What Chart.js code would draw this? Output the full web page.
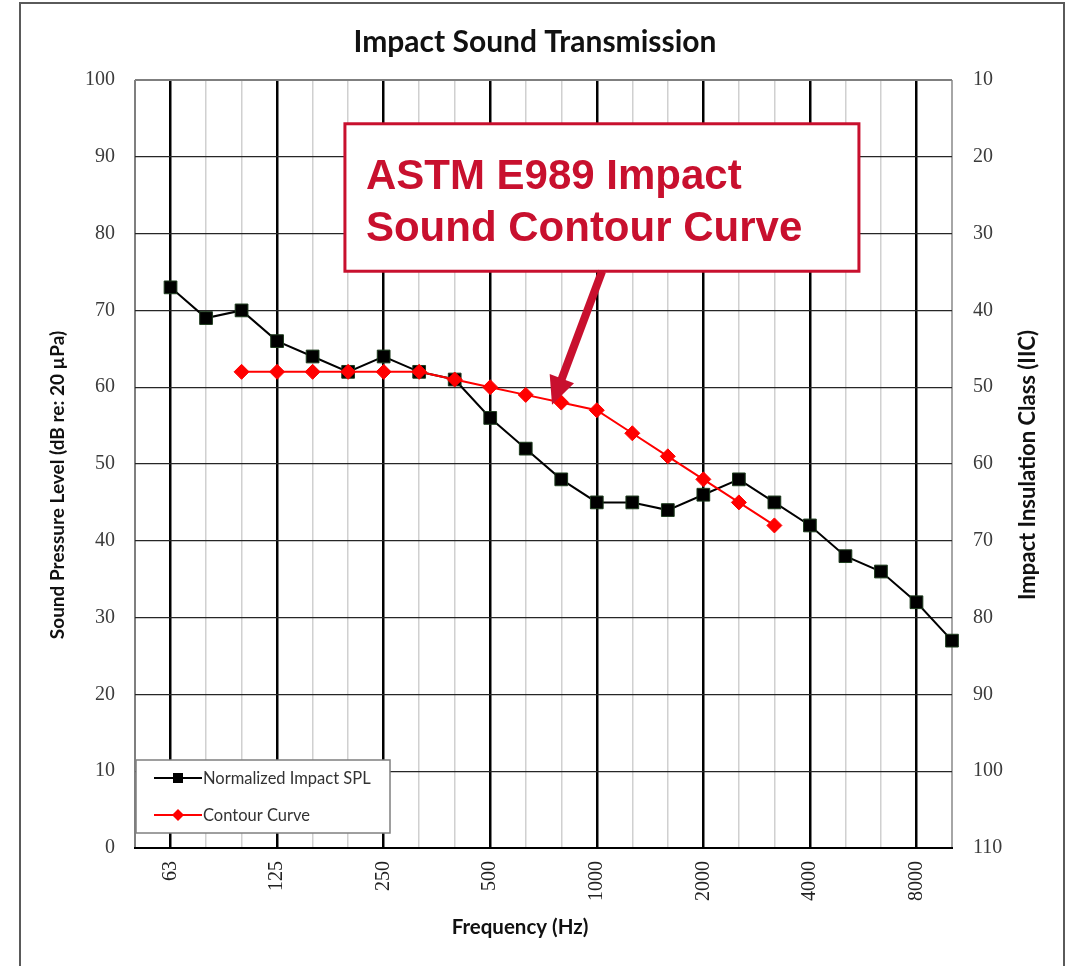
<html>
<head>
<script src="https://cdn.jsdelivr.net/npm/chart.js@4.4.3/dist/chart.umd.min.js"></script>
<style>
body { margin: 0; background: #fff; }
#wrap { position: relative; width: 1072px; height: 966px; overflow: hidden; }
#frame { position: absolute; left: 19px; top: 2px; width: 1042px; height: 1000px;
         border: 2px solid #5a5a5a; pointer-events: none; }
</style>
</head>
<body>
<div id="wrap">
  <canvas id="mychart" width="1072" height="966"></canvas>
  <div id="frame"></div>
</div>
<script>
// 1/3 octave bands, 50 Hz is the empty slot at the left edge
freqs = ['50','63','80','100','125','160','200','250','315','400','500','630','800','1000','1250','1600','2000','2500','3150','4000','5000','6300','8000','10000'];
octaves = ['63','125','250','500','1000','2000','4000','8000'];
splData = [null,73,69,70,66,64,62,64,62,61,56,52,48,45,45,44,46,48,45,42,38,36,32,27];
contourData = [null,null,null,62,62,62,62,62,62,61,60,59,58,57,54,51,48,45,42,null,null,null,null,null];

chartTitle = 'Impact Sound Transmission';
xTitle = 'Frequency (Hz)';
yTitle = 'Sound Pressure Level (dB re: 20 µPa)';
y2Title = 'Impact Insulation Class (IIC)';
calloutLines = ['ASTM E989 Impact', 'Sound Contour Curve'];
// box: [x from, x to (band index), y top, y bottom (dB)]
calloutBox = [5.91, 20.38, 94.3, 75.1];
// arrow: [x start, y start, x tip, y tip]
calloutArrow = [13.15, 75.1, 11.74, 57.7];
crimson = '#c8102e';
sansFam = 'Lato, "Liberation Sans"';

function rotText(ctx, txt, x, y, font) {
    ctx.save();
    ctx.translate(x, y);
    ctx.rotate(-Math.PI / 2);
    ctx.font = font;
    ctx.fillText(txt, 0, 0);
    ctx.restore();
}

calloutPlugin = {
    id: 'callout',
    afterDatasetsDraw(chart) {
        var ctx = chart.ctx, xs = chart.scales.x, ys = chart.scales.y;
        var l = xs.getPixelForValue(calloutBox[0]), r = xs.getPixelForValue(calloutBox[1]);
        var t = ys.getPixelForValue(calloutBox[2]), b = ys.getPixelForValue(calloutBox[3]);
        ctx.save();
        ctx.fillStyle = '#fff';
        ctx.fillRect(l, t, r - l, b - t);
        ctx.strokeStyle = crimson;
        ctx.lineWidth = 3;
        ctx.strokeRect(l, t, r - l, b - t);
        ctx.fillStyle = crimson;
        ctx.font = 'bold 42px "Liberation Sans", Arial';
        ctx.textBaseline = 'alphabetic';
        ctx.fillText(calloutLines[0], l + 21, t + 65);
        ctx.fillText(calloutLines[1], l + 21, t + 117);
        // arrow
        var x0 = xs.getPixelForValue(calloutArrow[0]), y0 = ys.getPixelForValue(calloutArrow[1]);
        var x1 = xs.getPixelForValue(calloutArrow[2]), y1 = ys.getPixelForValue(calloutArrow[3]);
        var dx = x1 - x0, dy = y1 - y0, len = Math.sqrt(dx * dx + dy * dy);
        var ux = dx / len, uy = dy / len, px = -uy, py = ux;
        var headLen = 28, headW = 13;
        var bx = x1 - ux * headLen, by = y1 - uy * headLen;
        ctx.lineWidth = 8;
        ctx.lineCap = 'butt';
        ctx.beginPath();
        ctx.moveTo(x0, y0);
        ctx.lineTo(bx + ux * 2, by + uy * 2);
        ctx.stroke();
        ctx.beginPath();
        ctx.moveTo(x1, y1);
        ctx.lineTo(bx + px * headW, by + py * headW);
        ctx.lineTo(bx - px * headW, by - py * headW);
        ctx.closePath();
        ctx.fill();
        ctx.restore();
    },
    afterDraw(chart) {
        var ctx = chart.ctx, area = chart.chartArea;
        ctx.save();
        // titles
        ctx.fillStyle = '#111';
        ctx.textAlign = 'center';
        ctx.textBaseline = 'middle';
        ctx.font = 'bold 30px ' + sansFam;
        ctx.fillText(chartTitle, 535, 42);
        ctx.font = 'bold 20.5px ' + sansFam;
        ctx.fillText(xTitle, 520, 927);
        rotText(ctx, yTitle, 58, 485, 'bold 19px ' + sansFam);
        rotText(ctx, y2Title, 1028, 465, 'bold 22px ' + sansFam);
        // legend box in lower-left corner of the plot
        var lx = area.left + 1, ly = area.bottom - 88, lw = 254, lh = 73;
        ctx.fillStyle = '#fff';
        ctx.fillRect(lx, ly, lw, lh);
        ctx.strokeStyle = '#7f7f7f';
        ctx.lineWidth = 1.5;
        ctx.strokeRect(lx, ly, lw, lh);
        ctx.font = '16.5px ' + sansFam;
        ctx.textAlign = 'left';
        var order = [1, 0];
        order.forEach(function (di, k) {
            var ds = chart.data.datasets[di];
            var cy = ly + 18 + k * 37;
            ctx.strokeStyle = ds.borderColor;
            ctx.lineWidth = 2;
            ctx.beginPath();
            ctx.moveTo(lx + 18, cy);
            ctx.lineTo(lx + 66, cy);
            ctx.stroke();
            ctx.fillStyle = ds.pointBackgroundColor;
            if (ds.pointStyle === 'rect') {
                ctx.fillRect(lx + 37, cy - 5, 10, 10);
            } else {
                ctx.beginPath();
                ctx.moveTo(lx + 42, cy - 6);
                ctx.lineTo(lx + 48, cy);
                ctx.lineTo(lx + 42, cy + 6);
                ctx.lineTo(lx + 36, cy);
                ctx.closePath();
                ctx.fill();
            }
            ctx.fillStyle = '#333';
            ctx.fillText(ds.label, lx + 67, cy + 1);
        });
        ctx.restore();
    }
};

serifTicks = { family: '"Liberation Serif", "Times New Roman", serif', size: 20 };

config = {
    type: 'line',
    data: {
        labels: freqs,
        datasets: [{
            label: 'Contour Curve',
            data: contourData,
            borderColor: '#ff0000',
            backgroundColor: '#ff0000',
            pointBackgroundColor: '#ff0000',
            pointBorderColor: '#ff0000',
            pointStyle: 'rectRot',
            pointRadius: 7.5,
            pointBorderWidth: 1,
            borderWidth: 2,
            tension: 0,
            order: 0
        }, {
            label: 'Normalized Impact SPL',
            data: splData,
            borderColor: '#000',
            backgroundColor: '#000',
            pointBackgroundColor: '#000',
            pointBorderColor: '#1d3b1d',
            pointStyle: 'rect',
            pointRadius: 9,
            pointBorderWidth: 1,
            borderWidth: 2,
            tension: 0,
            order: 1
        }]
    },
    options: {
        responsive: false,
        animation: false,
        layout: { padding: { top: 80, left: 0, right: 0, bottom: 0 } },
        plugins: { legend: { display: false }, tooltip: { enabled: false } },
        scales: {
            x: {
                type: 'category',
                offset: false,
                afterFit: function (s) { s.height = 118; },
                border: { color: '#000', width: 2 },
                grid: {
                    drawTicks: false,
                    color: function (c) {
                        if (c.index === 0) return '#7f7f7f';
                        if (c.index === freqs.length - 1) return '#a6a6a6';
                        return octaves.indexOf(freqs[c.index]) >= 0 ? '#000' : '#d0d0d0';
                    },
                    lineWidth: function (c) {
                        if (c.index === 0 || c.index === freqs.length - 1) return 2;
                        return octaves.indexOf(freqs[c.index]) >= 0 ? 2.5 : 1.5;
                    }
                },
                ticks: {
                    autoSkip: false,
                    maxRotation: 90,
                    minRotation: 90,
                    padding: 13,
                    color: '#222',
                    font: serifTicks,
                    callback: function (v, i) {
                        return octaves.indexOf(freqs[i]) >= 0 ? freqs[i] : '';
                    }
                }
            },
            y: {
                position: 'left',
                min: 0,
                max: 100,
                afterFit: function (s) { s.width = 135; },
                border: { display: false },
                grid: {
                    drawTicks: false,
                    color: function (c) { return c.tick.value === 100 ? '#7f7f7f' : '#262626'; },
                    lineWidth: function (c) { return c.tick.value === 100 ? 2 : 1.3; }
                },
                ticks: { stepSize: 10, padding: 20, color: '#3b3b3b', font: serifTicks }
            },
            y2: {
                position: 'right',
                min: 10,
                max: 110,
                reverse: true,
                afterFit: function (s) { s.width = 120; },
                border: { display: false },
                grid: { display: false, drawTicks: false },
                ticks: { stepSize: 10, padding: 21, color: '#3b3b3b', font: serifTicks }
            }
        }
    },
    plugins: [calloutPlugin]
};
new Chart(document.querySelector('#mychart'), config);
</script>
</body>
</html>
